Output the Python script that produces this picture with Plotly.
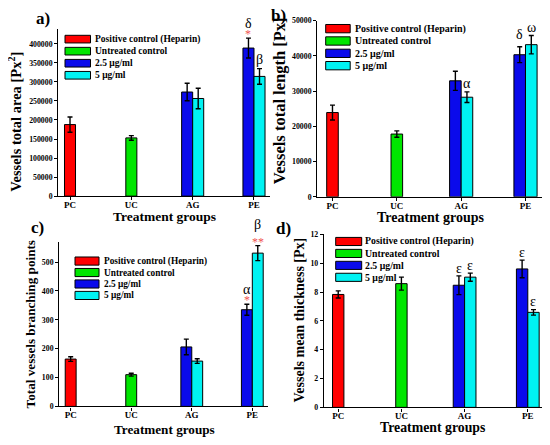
import plotly.graph_objects as go

W, H = 550, 445
PAGE_OFF = 8  # browser body margin around the plot div

categories = ["PC", "UC", "AG", "PE"]
series_names = ["Positive control (Heparin)", "Untreated control", "2.5 μg/ml", "5 μg/ml"]
series_colors = ["#FF0000", "#00E600", "#0A0AEB", "#00F2F2"]

# a) Vessels total area
area_pc = [188000]
area_pc_err = [20000]
area_uc = [153000]
area_uc_err = [6000]
area_25 = [273500, 389000]
area_25_err = [23000, 26000]
area_5 = [256500, 314500]
area_5_err = [27000, 20500]

# b) Vessels total length
length_pc = [23900]
length_pc_err = [2100]
length_uc = [17800]
length_uc_err = [900]
length_25 = [32900, 40300]
length_25_err = [2700, 2250]
length_5 = [28250, 43150]
length_5_err = [1500, 2600]

# c) Total vessels branching points
branch_pc = [164]
branch_pc_err = [8]
branch_uc = [110]
branch_uc_err = [5]
branch_25 = [206, 335]
branch_25_err = [27, 19]
branch_5 = [157, 531]
branch_5_err = [8, 26]

# d) Vessels mean thickness
thick_pc = [7.83]
thick_pc_err = [0.25]
thick_uc = [8.58]
thick_uc_err = [0.45]
thick_25 = [8.47, 9.60]
thick_25_err = [0.65, 0.61]
thick_5 = [9.03, 6.59]
thick_5_err = [0.28, 0.19]

panel_labels = ["a)", "b)", "c)", "d)"]
y_titles = ["Vessels total area [Px<sup>2</sup>]", "Vessels total length [Px]",
            "Total vessels branching points", "Vessels mean thickness [Px]"]
x_title = "Treatment groups"

panels_data = [
    (area_pc, area_pc_err, area_uc, area_uc_err, area_25, area_25_err, area_5, area_5_err),
    (length_pc, length_pc_err, length_uc, length_uc_err, length_25, length_25_err, length_5, length_5_err),
    (branch_pc, branch_pc_err, branch_uc, branch_uc_err, branch_25, branch_25_err, branch_5, branch_5_err),
    (thick_pc, thick_pc_err, thick_uc, thick_uc_err, thick_25, thick_25_err, thick_5, thick_5_err),
]

# significance marks: (panel, category index, series (2=2.5, 3=5), text, colour, size, pixel offset above error bar)
sig_marks = [
    (0, 3, 2, "*", "#F05050", 12, 4),
    (0, 3, 2, "δ", "black", 14, 15),
    (0, 3, 3, "β", "black", 14, 9),
    (1, 2, 3, "α", "black", 14, 8),
    (1, 3, 2, "δ", "black", 14, 12),
    (1, 3, 3, "ω", "black", 14, 8),
    (2, 3, 3, "**", "#F05050", 12, 4),
    (2, 3, 3, "β", "black", 14, 21),
    (2, 3, 2, "*", "#F05050", 12, 4),
    (2, 3, 2, "α", "black", 14, 15),
    (3, 2, 2, "ε", "black", 14, 7),
    (3, 2, 3, "ε", "black", 14, 8),
    (3, 3, 2, "ε", "black", 14, 8),
    (3, 3, 3, "ε", "black", 14, 8),
]

# ---------- layout geometry (pixels in the 550x445 window) ----------
FONT = "Liberation Serif"
panel_geom = [
    dict(x0=58.3, x1=270.0, yt=25.0, yb=196.0, xr=[-0.191, 3.261], yr=[0, 440000], dt=50000),
    dict(x0=317.3, x1=543.0, yt=16.7, yb=196.7, xr=[-0.236, 3.272], yr=[0, 50000], dt=10000),
    dict(x0=59.3, x1=268.3, yt=242.7, yb=410.7, xr=[-0.188, 3.264], yr=[0, 570], dt=100),
    dict(x0=324.0, x1=541.7, yt=235.0, yb=411.7, xr=[-0.225, 3.220], yr=[0, 12], dt=2),
]
label_pos = [(43, 15, 17), (278, 12, 17), (37, 228, 17), (283, 229, 17)]
ytitle_pos = [(15, 120, 14.5), (279, 99, 16.5), (30, 327, 13.2), (300, 323, 14)]
xtitle_pos = [(164, 217, 13.5), (430, 218, 14), (164, 434, 13.2), (433, 432, 13.8)]
legend_geom = [
    dict(bx=65.0, bw=25.5, bh=7.8, ty=35.7, dy=12.3, tx=93.0, fs=9.5),
    dict(bx=325.7, bw=24.5, bh=8.5, ty=25.0, dy=12.6, tx=353.0, fs=10),
    dict(bx=75.0, bw=24.0, bh=8.3, ty=262.3, dy=11.7, tx=101.5, fs=9.3),
    dict(bx=335.7, bw=26.0, bh=8.3, ty=242.3, dy=12.2, tx=363.0, fs=9.8),
]

BW = 0.18
FW, FH = W - PAGE_OFF, H - PAGE_OFF


def px(x):
    return (x - PAGE_OFF) / FW


def py(y):
    return 1 - (y - PAGE_OFF) / FH


fig = go.Figure()
annotations = []
shapes = []

for i, (d, g) in enumerate(zip(panels_data, panel_geom)):
    pc, pc_e, uc, uc_e, s25, s25_e, s5, s5_e = d
    xa = "x" if i == 0 else f"x{i+1}"
    ya = "y" if i == 0 else f"y{i+1}"
    groups = [
        (["PC"], pc, pc_e, -BW / 2),
        (["UC"], uc, uc_e, -BW / 2),
        (["AG", "PE"], s25, s25_e, -BW),
        (["AG", "PE"], s5, s5_e, 0.0),
    ]
    for k, (xs, ys, es, off) in enumerate(groups):
        fig.add_trace(go.Bar(
            x=xs, y=ys, name=series_names[k], xaxis=xa, yaxis=ya,
            width=BW, offset=off, showlegend=False,
            marker=dict(color=series_colors[k], line=dict(color="black", width=1)),
            error_y=dict(type="data", array=es, color="black", thickness=1.4, width=2.5),
        ))

    common_font = dict(family=FONT, color="black", weight="bold")
    fig.layout[f"xaxis{'' if i == 0 else i+1}"] = dict(
        domain=[px(g["x0"]), px(g["x1"])], anchor=ya, type="category",
        categoryorder="array", categoryarray=categories, range=g["xr"],
        showline=True, linecolor="black", linewidth=1.4, ticks="outside",
        ticklen=3, tickwidth=1, tickcolor="black", showgrid=False, zeroline=False,
        ticklabelstandoff=-3,
        tickfont=dict(size=9, **common_font), fixedrange=True,
    )
    fig.layout[f"yaxis{'' if i == 0 else i+1}"] = dict(
        domain=[py(g["yb"]), py(g["yt"])], anchor=xa, range=g["yr"], dtick=g["dt"],
        tick0=0, tickformat="d", showline=True, linecolor="black", linewidth=1.4,
        ticks="outside", ticklen=3, tickwidth=1, tickcolor="black", showgrid=False,
        zeroline=False, tickfont=dict(size=7.8, **common_font), fixedrange=True,
    )

    lx, ly, ls = label_pos[i]
    annotations.append(dict(text=panel_labels[i], x=px(lx), y=py(ly), xref="paper", yref="paper",
                            showarrow=False, xanchor="center", yanchor="middle",
                            font=dict(size=ls, **common_font)))
    tx, ty, ts = ytitle_pos[i]
    annotations.append(dict(text=y_titles[i], x=px(tx), y=py(ty), xref="paper", yref="paper",
                            showarrow=False, textangle=-90, xanchor="center", yanchor="middle",
                            font=dict(size=ts, **common_font)))
    tx, ty, ts = xtitle_pos[i]
    annotations.append(dict(text=x_title, x=px(tx), y=py(ty), xref="paper", yref="paper",
                            showarrow=False, xanchor="center", yanchor="middle",
                            font=dict(size=ts, **common_font)))

    lg = legend_geom[i]
    for k, nm in enumerate(series_names):
        cy = lg["ty"] + k * lg["dy"]
        shapes.append(dict(type="rect", xref="paper", yref="paper",
                           x0=px(lg["bx"]), x1=px(lg["bx"] + lg["bw"]),
                           y0=py(cy + lg["bh"] / 2), y1=py(cy - lg["bh"] / 2),
                           fillcolor=series_colors[k], line=dict(color="black", width=1)))
        annotations.append(dict(text=nm, x=px(lg["tx"]), y=py(cy), xref="paper", yref="paper",
                                showarrow=False, xanchor="left", yanchor="middle",
                                font=dict(size=lg["fs"], **common_font)))

for (p, ci, s, txt, col, fs, shift) in sig_marks:
    d = panels_data[p]
    vals, errs = (d[4], d[5]) if s == 2 else (d[6], d[7])
    j = ci - 2
    xoff = -BW / 2 if s == 2 else BW / 2
    xa = "x" if p == 0 else f"x{p+1}"
    ya = "y" if p == 0 else f"y{p+1}"
    annotations.append(dict(text=txt, x=ci + xoff, y=vals[j] + errs[j], xref=xa, yref=ya,
                            showarrow=False, xanchor="center", yanchor="middle",
                            yshift=shift,
                            font=dict(family=FONT, size=fs, color=col)))

fig.update_layout(
    width=FW, height=FH, autosize=False,
    margin=dict(l=0, r=0, t=0, b=0),
    paper_bgcolor="white", plot_bgcolor="white",
    barmode="overlay", showlegend=False,
    font=dict(family=FONT, color="black"),
    annotations=annotations, shapes=shapes,
)

fig.write_html("out.html")
